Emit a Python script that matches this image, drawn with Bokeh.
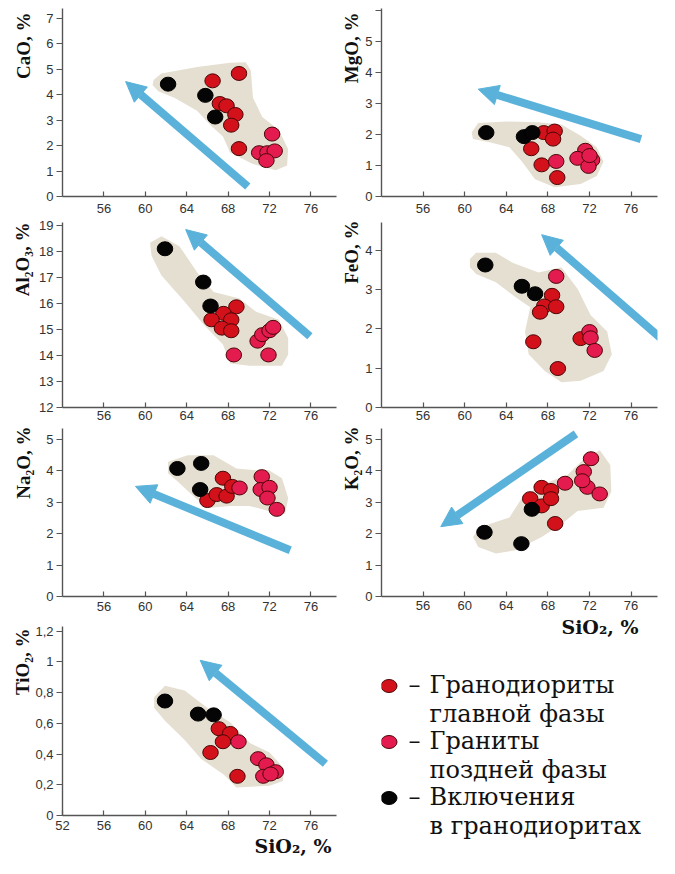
from bokeh.plotting import figure
from bokeh.layouts import row, column
from bokeh.models import Range1d, FixedTicker, Title, Arrow, NormalHead, CustomJSTickFormatter
from bokeh.embed import file_html
from bokeh.resources import INLINE
from bokeh.core.properties import value

# ------------------------------------------------------------------ data
SIO2_TICKS = [56, 60, 64, 68, 72, 76]
SIO2_TICKS_LAST = [52, 56, 60, 64, 68, 72, 76]
X_LABEL = "SiO₂, %"

LEGEND_LINE1 = ["Гранодиориты", "Граниты", "Включения"]
LEGEND_LINE2 = ["главной фазы", "поздней фазы", "в гранодиоритах"]

# CaO
CAO_MAIN_X = [66.5, 69.05, 67.2, 67.85, 68.7, 68.3, 69.05]
CAO_MAIN_Y = [4.54, 4.83, 3.65, 3.56, 3.22, 2.80, 1.88]
CAO_LATE_X = [72.25, 71.0, 71.8, 72.5, 71.7]
CAO_LATE_Y = [2.45, 1.72, 1.72, 1.79, 1.41]
CAO_INCL_X = [62.2, 65.8, 66.75]
CAO_INCL_Y = [4.41, 3.97, 3.12]
CAO_FIELD_X = [60.8, 61.55, 65.0, 68.2, 69.7, 70.2, 70.4, 71.3, 72.9, 73.8, 73.7, 72.6, 70.4, 68.2, 67.5, 66.3, 65.0, 62.8, 61.25, 60.7]
CAO_FIELD_Y = [4.57, 4.83, 5.08, 5.25, 5.27, 4.95, 3.88, 3.12, 2.61, 1.85, 1.22, 1.03, 1.28, 1.72, 2.36, 2.80, 3.37, 3.88, 4.13, 4.38]
CAO_TREND = [69.9, 0.39, 58.1, 4.51]          # tail x, tail y, head x, head y

# MgO
MGO_MAIN_X = [67.6, 68.65, 68.5, 66.4, 67.4, 68.9]
MGO_MAIN_Y = [2.06, 2.11, 1.85, 1.54, 1.02, 0.61]
MGO_LATE_X = [68.8, 71.6, 70.85, 72.25, 71.9, 72.0]
MGO_LATE_Y = [1.13, 1.49, 1.23, 1.18, 0.97, 1.32]
MGO_INCL_X = [62.07, 65.7, 66.5]
MGO_INCL_Y = [2.06, 1.93, 2.06]
MGO_FIELD_X = [60.67, 61.3, 63.95, 67.1, 69.3, 71.15, 72.7, 73.35, 72.7, 71.15, 68.65, 66.77, 65.5, 64.3, 62.4, 60.8]
MGO_FIELD_Y = [2.06, 2.37, 2.42, 2.39, 2.32, 1.96, 1.59, 1.13, 0.66, 0.40, 0.30, 0.56, 1.13, 1.59, 1.75, 1.85]
MGO_TREND = [76.95, 1.85, 61.3, 3.46]

# Al2O3
AL_MAIN_X = [68.8, 67.55, 66.4, 68.3, 67.4, 68.3]
AL_MAIN_Y = [15.87, 15.62, 15.37, 15.37, 15.05, 14.95]
AL_LATE_X = [68.55, 70.85, 71.3, 72.0, 72.35, 71.9]
AL_LATE_Y = [14.02, 14.55, 14.8, 14.95, 15.08, 14.02]
AL_INCL_X = [61.9, 65.6, 66.3]
AL_INCL_Y = [18.1, 16.82, 15.9]
AL_FIELD_X = [60.46, 61.56, 63.3, 65.0, 66.6, 69.1, 70.7, 72.9, 73.8, 73.8, 73.2, 70.05, 68.2, 67.5, 65.65, 63.8, 61.56, 60.6]
AL_FIELD_Y = [18.33, 18.58, 18.2, 17.2, 16.44, 16.19, 15.68, 15.37, 14.67, 14.04, 13.6, 13.6, 13.69, 14.42, 15.18, 16.06, 17.07, 17.83]
AL_TREND = [75.9, 14.74, 63.9, 18.84]

# FeO
FEO_MAIN_X = [68.4, 67.65, 68.8, 67.25, 66.6, 68.96, 71.15]
FEO_MAIN_Y = [2.85, 2.58, 2.56, 2.42, 1.67, 0.99, 1.75]
FEO_LATE_X = [68.8, 72.0, 72.1, 72.5]
FEO_LATE_Y = [3.33, 1.93, 1.77, 1.45]
FEO_INCL_X = [61.98, 65.5, 66.77]
FEO_INCL_Y = [3.62, 3.08, 2.89]
FEO_FIELD_X = [60.5, 61.1, 63.0, 64.6, 67.1, 69.3, 70.85, 72.1, 73.7, 74.15, 73.35, 71.15, 69.3, 67.7, 66.15, 65.8, 66.3, 65.0, 63.0, 61.1, 60.5]
FEO_FIELD_Y = [3.77, 3.93, 3.93, 3.68, 3.43, 3.56, 3.02, 2.35, 1.93, 1.35, 0.93, 0.68, 0.64, 0.93, 1.35, 1.93, 2.55, 2.78, 3.18, 3.39, 3.56]
FEO_TREND = [78.8, 1.77, 67.4, 4.39]

# Na2O
NA_MAIN_X = [67.5, 66.0, 66.9, 67.85, 68.4]
NA_MAIN_Y = [3.76, 3.05, 3.24, 3.19, 3.5]
NA_LATE_X = [69.1, 71.25, 71.15, 72.0, 71.8, 72.7]
NA_LATE_Y = [3.45, 3.81, 3.40, 3.47, 3.13, 2.77]
NA_INCL_X = [63.1, 65.4, 65.3]
NA_INCL_Y = [4.07, 4.23, 3.40]
NA_FIELD_X = [62.2, 64.1, 66.6, 68.8, 70.4, 71.9, 73.2, 73.8, 73.5, 71.9, 70.05, 68.2, 66.3, 65.0, 63.1, 62.2]
NA_FIELD_Y = [4.28, 4.49, 4.49, 4.07, 4.02, 4.02, 3.76, 3.13, 2.62, 2.72, 2.88, 2.88, 2.82, 3.08, 3.66, 3.92]
NA_TREND = [74.0, 1.47, 59.05, 3.5]

# K2O
K_MAIN_X = [66.3, 67.4, 67.4, 68.3, 68.3, 68.7]
K_MAIN_Y = [3.11, 2.88, 3.47, 3.37, 3.11, 2.32]
K_LATE_X = [69.65, 71.45, 72.15, 71.8, 72.98, 71.3]
K_LATE_Y = [3.60, 3.97, 4.38, 3.47, 3.26, 3.68]
K_INCL_X = [61.9, 65.45, 66.46]
K_INCL_Y = [2.04, 1.68, 2.77]
K_FIELD_X = [60.8, 61.45, 64.3, 65.5, 67.4, 69.9, 71.5, 73.0, 74.0, 74.1, 73.35, 70.85, 69.3, 67.4, 64.9, 63.0, 61.3]
K_FIELD_Y = [1.89, 2.2, 2.51, 3.13, 3.55, 3.87, 4.38, 4.65, 4.18, 3.34, 2.82, 2.72, 2.3, 1.89, 1.47, 1.37, 1.57]
K_TREND = [70.7, 5.17, 57.7, 2.22]

# TiO2
TI_MAIN_X = [67.1, 68.2, 67.5, 66.3, 68.9]
TI_MAIN_Y = [0.565, 0.534, 0.48, 0.41, 0.255]
TI_LATE_X = [69.0, 70.9, 71.7, 72.6, 71.4, 72.1]
TI_LATE_Y = [0.48, 0.37, 0.33, 0.285, 0.255, 0.27]
TI_INCL_X = [61.9, 65.1, 66.6]
TI_INCL_Y = [0.745, 0.66, 0.655]
TI_FIELD_X = [60.86, 61.9, 63.8, 66.0, 68.2, 70.1, 72.0, 73.4, 73.3, 72.0, 68.8, 67.6, 65.4, 63.8, 61.9, 60.86]
TI_FIELD_Y = [0.772, 0.845, 0.814, 0.70, 0.607, 0.472, 0.41, 0.306, 0.224, 0.193, 0.183, 0.266, 0.368, 0.492, 0.617, 0.70]
TI_TREND = [77.4, 0.337, 65.3, 1.01]

# ------------------------------------------------------------------ style
MAIN_COLOR = "#d3111a"
LATE_COLOR = "#e31b4f"
INCL_COLOR = "#050505"
OUTLINE = "#4a0606"
FIELD_COLOR = "#e5dfd2"
ARROW_COLOR = "#5ab2da"
AXIS_COLOR = "#555555"
TICK_FONT = "Liberation Sans"
LABEL_FONT = "Liberation Serif"

LEFT_GEOM = (61, 274, 2, 78.47)    # border left, frame width, border right, x max
RIGHT_GEOM = (41, 276, 5, 78.54)


def make_panel(label, yr, yticks, main, late, incl, field, trend, side,
               b_top, f_h, b_bot, xticks=SIO2_TICKS, t_standoff=1, t_offset=0,
               x_std=3, xlabel=None, xl_offset=0, xl_standoff=0, yfmt=None):
    bl, fw, br, xmax = LEFT_GEOM if side == "left" else RIGHT_GEOM
    p = figure(frame_width=fw, frame_height=f_h,
               min_border_left=bl, min_border_right=br,
               min_border_top=b_top, min_border_bottom=b_bot,
               x_range=Range1d(52, xmax), y_range=Range1d(*yr),
               output_backend="svg", toolbar_location=None,
               outline_line_color=None)
    p.xgrid.visible = False
    p.ygrid.visible = False

    xa = p.xaxis[0]
    xa.ticker = FixedTicker(ticks=xticks)
    xa.major_tick_in = 5
    xa.major_tick_out = 0
    xa.minor_tick_line_color = None
    xa.major_label_standoff = x_std
    ya = p.yaxis[0]
    ya.ticker = FixedTicker(ticks=yticks)
    ya.major_tick_in = 0
    ya.major_tick_out = 6
    ya.minor_tick_line_color = None
    ya.major_label_standoff = 3
    if yfmt is not None:
        ya.formatter = CustomJSTickFormatter(code=yfmt)
    for ax in (xa, ya):
        ax.axis_line_color = AXIS_COLOR
        ax.axis_line_width = 1.4
        ax.major_tick_line_color = AXIS_COLOR
        ax.major_tick_line_width = 1.2
        ax.major_label_text_font = TICK_FONT
        ax.major_label_text_font_size = "13px"
        ax.major_label_text_color = "#333333"

    p.add_layout(Title(text=label, align="right", vertical_align="bottom",
                       offset=t_offset, standoff=t_standoff,
                       text_font=LABEL_FONT, text_font_style="bold",
                       text_font_size="19px", text_color="#111111"), "left")
    if xlabel:
        p.add_layout(Title(text=xlabel, align="right", vertical_align="bottom",
                           offset=xl_offset, standoff=xl_standoff,
                           text_font="DejaVu Serif", text_font_style="bold",
                           text_font_size="19px", text_color="#111111"), "below")

    p.patch(field[0], field[1], fill_color=FIELD_COLOR, line_color=None)
    p.add_layout(Arrow(x_start=trend[0], y_start=trend[1], x_end=trend[2], y_end=trend[3],
                       line_color=ARROW_COLOR, line_width=8,
                       end=NormalHead(size=20, fill_color=ARROW_COLOR,
                                      line_color=ARROW_COLOR, line_width=1)))
    for (xs, ys), col, lc in ((main, MAIN_COLOR, OUTLINE), (late, LATE_COLOR, OUTLINE),
                              (incl, INCL_COLOR, "#000000")):
        p.ellipse(x=xs, y=ys, width=15.5, height=14, width_units="screen",
                  height_units="screen", fill_color=col, line_color=lc, line_width=1)
    return p


hide6 = "return tick == 6 ? '' : tick.toString()"
comma = "return (Math.round(tick*10)/10).toString().replace('.', ',')"

p_cao = make_panel("CaO, %", (0, 7.38), list(range(0, 8)),
                   (CAO_MAIN_X, CAO_MAIN_Y), (CAO_LATE_X, CAO_LATE_Y), (CAO_INCL_X, CAO_INCL_Y),
                   (CAO_FIELD_X, CAO_FIELD_Y), CAO_TREND, "left",
                   8, 188, 22, t_standoff=20, t_offset=4, x_std=7)
p_al = make_panel("Al₂O₃, %", (12, 19.11), list(range(12, 20)),
                  (AL_MAIN_X, AL_MAIN_Y), (AL_LATE_X, AL_LATE_Y), (AL_INCL_X, AL_INCL_Y),
                  (AL_FIELD_X, AL_FIELD_Y), AL_TREND, "left",
                  4, 185, 18, t_standoff=7, t_offset=0, x_std=3)
p_na = make_panel("Na₂O, %", (0, 5.34), list(range(0, 6)),
                  (NA_MAIN_X, NA_MAIN_Y), (NA_LATE_X, NA_LATE_Y), (NA_INCL_X, NA_INCL_Y),
                  (NA_FIELD_X, NA_FIELD_Y), NA_TREND, "left",
                  3, 168, 22, t_standoff=20, t_offset=-2, x_std=5)
p_ti = make_panel("TiO₂, %", (0, 1.23), [0, 0.2, 0.4, 0.6, 0.8, 1.0, 1.2],
                  (TI_MAIN_X, TI_MAIN_Y), (TI_LATE_X, TI_LATE_Y), (TI_INCL_X, TI_INCL_Y),
                  (TI_FIELD_X, TI_FIELD_Y), TI_TREND, "left",
                  8, 189, 43, xticks=SIO2_TICKS_LAST, t_standoff=0, t_offset=2, x_std=5,
                  xlabel=X_LABEL, xl_offset=5, xl_standoff=0, yfmt=comma)

p_mg = make_panel("MgO, %", (0, 6.06), list(range(0, 7)),
                  (MGO_MAIN_X, MGO_MAIN_Y), (MGO_LATE_X, MGO_LATE_Y), (MGO_INCL_X, MGO_INCL_Y),
                  (MGO_FIELD_X, MGO_FIELD_Y), MGO_TREND, "right",
                  8, 188, 22, t_standoff=1, t_offset=4, x_std=7, yfmt=hide6)
p_fe = make_panel("FeO, %", (0, 4.70), list(range(0, 5)),
                  (FEO_MAIN_X, FEO_MAIN_Y), (FEO_LATE_X, FEO_LATE_Y), (FEO_INCL_X, FEO_INCL_Y),
                  (FEO_FIELD_X, FEO_FIELD_Y), FEO_TREND, "right",
                  4, 185, 18, t_standoff=1, t_offset=-2, x_std=3)
p_k = make_panel("K₂O, %", (0, 5.34), list(range(0, 6)),
                 (K_MAIN_X, K_MAIN_Y), (K_LATE_X, K_LATE_Y), (K_INCL_X, K_INCL_Y),
                 (K_FIELD_X, K_FIELD_Y), K_TREND, "right",
                 3, 168, 44, t_standoff=1, t_offset=-2, x_std=4,
                 xlabel=X_LABEL, xl_offset=19, xl_standoff=2)

# ------------------------------------------------------------------ legend panel
# same borders as the other right-hand panels; data units equal pixels of the figure
LB, LF, LR = RIGHT_GEOM[0], RIGHT_GEOM[1], RIGHT_GEOM[2]
LH = 218
leg = figure(frame_width=LF, frame_height=LH, min_border_left=LB, min_border_right=LR,
             min_border_top=0, min_border_bottom=0,
             x_range=Range1d(LB, LB + LF), y_range=Range1d(LH, 0),
             x_axis_location=None, y_axis_location=None,
             toolbar_location=None, output_backend="svg", outline_line_color=None)
leg.grid.visible = False
rows = list(range(len(LEGEND_LINE1)))
yc = [45.5 + 56 * i for i in rows]
leg.ellipse(x=[48.5] * len(rows), y=yc, width=16, height=13,
            fill_color=[MAIN_COLOR, LATE_COLOR, INCL_COLOR],
            line_color=[OUTLINE, OUTLINE, "#000000"], line_width=1)
tstyle = dict(text_font=value("DejaVu Serif"), text_font_size=value("24px"),
              text_baseline="middle", text_align="left", text_color="#111111")
leg.text(x=[68] * len(rows), y=[v - 1 for v in yc], text=["–"] * len(rows), **tstyle)
leg.text(x=[89] * len(rows), y=[v - 1 for v in yc], text=LEGEND_LINE1, **tstyle)
leg.text(x=[89] * len(rows), y=[v + 28 for v in yc], text=LEGEND_LINE2, **tstyle)

layout = row(column(p_cao, p_al, p_na, p_ti), column(p_mg, p_fe, p_k, leg))
open("out.html", "w").write(file_html(layout, INLINE))
